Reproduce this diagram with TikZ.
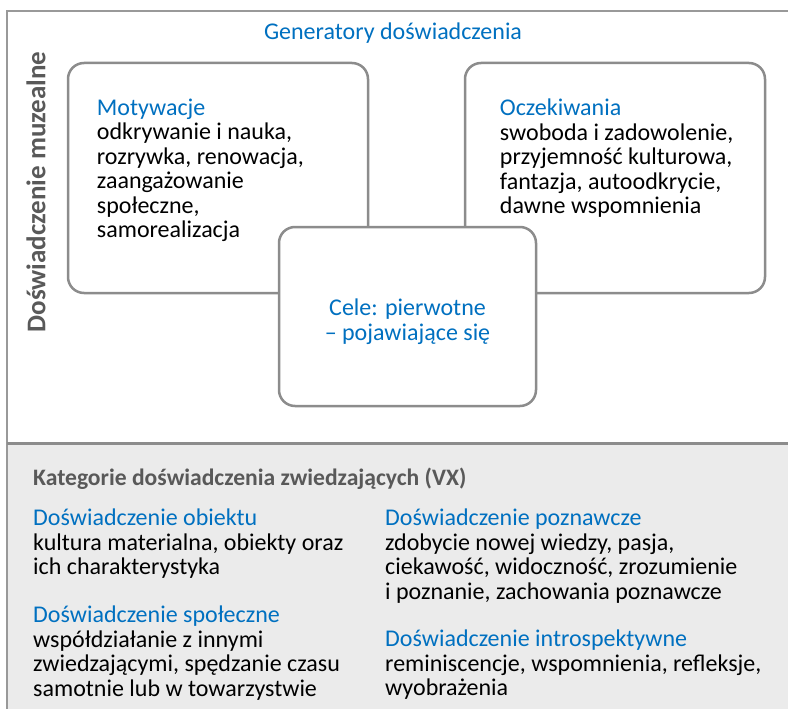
\documentclass[tikz,border=0pt]{standalone}
\usepackage{fontspec}
\setmainfont{Carlito}
\usetikzlibrary{positioning}

\definecolor{genblue}{HTML}{0070C0}
\definecolor{labelgray}{HTML}{595959}
\definecolor{framegray}{HTML}{999999}
\definecolor{boxgray}{HTML}{8C8C8C}
\definecolor{panelgray}{HTML}{EBEBEB}

\begin{document}
\begin{tikzpicture}[
        x=1pt, y=-1pt,
        every node/.style={
                inner sep=0pt,
                font=\fontsize{24}{24.5}\selectfont,
            },
        genbox/.style={
                draw=boxgray,
                line width=2.5pt,
                rounded corners=16pt,
                fill=white,
                minimum width=300pt,
                minimum height=230pt,
            },
        blocktext/.style={anchor=north west, align=left},
        grayhead/.style={text=labelgray, font=\bfseries\fontsize{#1}{#1}\selectfont},
    ]

    \useasboundingbox (0,0) rectangle (788,709);

    % frame and lower panel
    \fill[panelgray] (7,443) rectangle (788,709);
    \draw[framegray, line width=2pt] (788,11) -- (7,11) -- (7,709);
    \draw[boxgray, line width=3pt] (7,443) -- (788,443);

    \node[grayhead=27, rotate=90] (muzeum) at (36,192) {Doświadczenie muzealne};
    \node[text=genblue] (generatory) at (393,33) {Generatory doświadczenia};

    % generators
    \node[genbox] (motywacje) at (218,178) {};
    \node[genbox] (oczekiwania) at (615,178) {};
    \node[genbox, minimum width=257pt, minimum height=179pt] (cele) at (407.5,316.5) {};

    \node[blocktext, below right=37pt and 30pt of motywacje.north west] (motywacjetxt)
    {{\color{genblue}Motywacje}\\
        odkrywanie i nauka,\\
        rozrywka, renowacja,\\
        zaangażowanie\\
        społeczne,\\
        samorealizacja};
    \node[blocktext, below right=37pt and 36pt of oczekiwania.north west] (oczekiwaniatxt)
    {{\color{genblue}Oczekiwania}\\
        swoboda i zadowolenie,\\
        przyjemność kulturowa,\\
        fantazja, autoodkrycie,\\
        dawne wspomnienia};
    \node[text=genblue, align=center] (celetxt) at ([yshift=-5pt]cele.center) {Cele: pierwotne\\ -- pojawiające się};

    % visitor experience categories
    \node[grayhead=23.6, anchor=west] (kategorie) at (33,479) {Kategorie doświadczenia zwiedzających (VX)};

    \node[blocktext] (obiekt) at (33,509)
    {{\color{genblue}Doświadczenie obiektu}\\
        kultura materialna, obiekty oraz\\
        ich charakterystyka};
    \node[blocktext] (spoleczne) at (33,606)
    {{\color{genblue}Doświadczenie społeczne}\\
        współdziałanie z innymi\\
        zwiedzającymi, spędzanie czasu\\
        samotnie lub w towarzystwie};
    \node[blocktext] (poznawcze) at (385,509)
    {{\color{genblue}Doświadczenie poznawcze}\\
        zdobycie nowej wiedzy, pasja,\\
        ciekawość, widoczność, zrozumienie\\
        i poznanie, zachowania poznawcze};
    \node[blocktext] (introspekcja) at (385,630)
    {{\color{genblue}Doświadczenie introspektywne}\\
        reminiscencje, wspomnienia, refleksje,\\
        wyobrażenia};
\end{tikzpicture}
\end{document}
